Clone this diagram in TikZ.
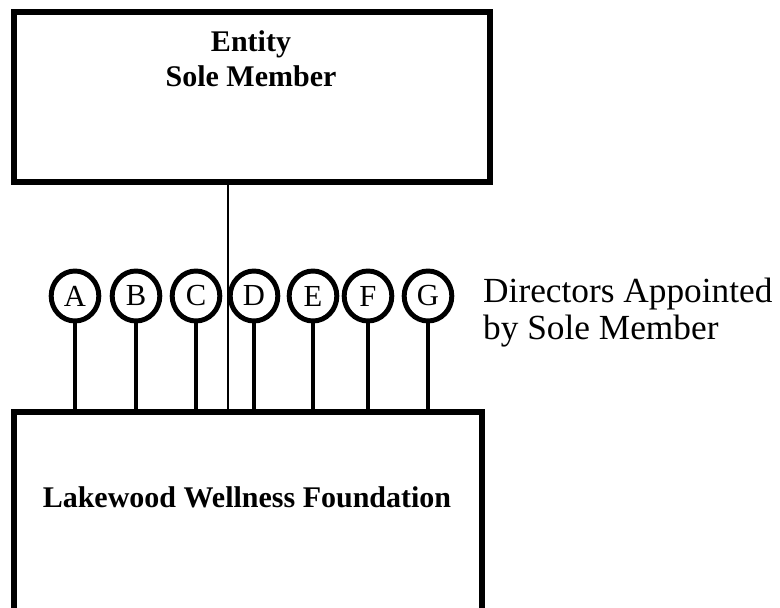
\documentclass[tikz,border=0pt]{standalone}
\usepackage{fontspec}
\setmainfont{Liberation Serif}
\usetikzlibrary{
  positioning,
  shapes.geometric,
}
\tikzset{
  orgbox/.style={draw=black, line width=4.4pt, inner sep=0pt},
  director/.style={
    shape=ellipse,
    draw=black,
    line width=4.2pt,
    inner sep=0pt,
    minimum width=40.5pt,
    minimum height=42.5pt,
    font=\fontsize{26}{30}\selectfont,
  },
  stem/.style={line width=3.6pt},
  link/.style={line width=1.8pt},
  boxtitle/.style={font=\fontsize{25.5}{29.75}\selectfont\bfseries, align=center, inner sep=0pt},
  note/.style={font=\fontsize{30}{31.5}\selectfont, align=left, inner sep=0pt},
}

\begin{document}
\begin{tikzpicture}[x=0.85pt,y=-0.85pt]
  \useasboundingbox (0,0) rectangle (780,608);
  \clip (0,0) rectangle (780,608);

  % Sole member on top
  \node[orgbox, minimum width=404.6pt, minimum height=144.5pt] (member) at (252,97) {};
  \node[boxtitle, anchor=base] (membertitle) at (251,87) {Entity\\Sole Member};

  % Foundation, runs off the bottom of the page
  \node[orgbox, minimum width=397.8pt, minimum height=244.8pt] (found) at (248,556) {};
  \node[boxtitle, anchor=base] (foundtitle) at (247,507) {Lakewood Wellness Foundation};

  % Member to foundation
  \coordinate (tap) at (228,0);
  \draw[link] (member.south -| tap) -- (found.north -| tap);

  % Directors
  \foreach \n/\x in {A/75,B/136,C/196,D/254,E/313,F/368,G/428} {
    \node[director] (\n) at (\x,296) {\n};
    \draw[stem] (\n) -- (\n |- found.north);
  }
  \node[note, anchor=base west] (appointed) at (483,340) {Directors Appointed\\by Sole Member};
\end{tikzpicture}
\end{document}
